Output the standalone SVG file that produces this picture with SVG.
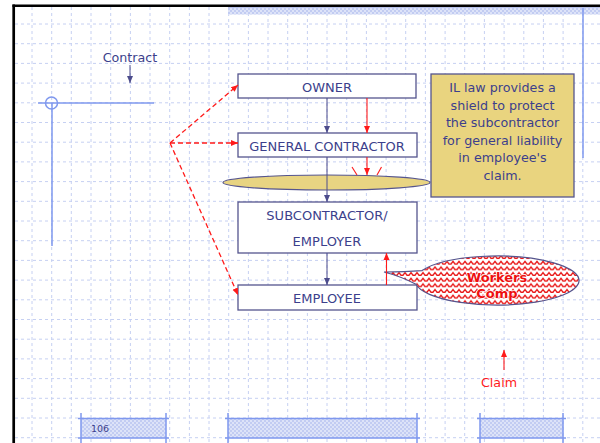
<svg xmlns="http://www.w3.org/2000/svg" width="600" height="443" viewBox="0 0 600 443">
<style>
.grid{stroke:#c6d0f2;stroke-width:1;stroke-dasharray:3 3;fill:none}
.box{fill:#ffffff;stroke:#55558e;stroke-width:1.3}
.lbl{font-family:"DejaVu Sans",Verdana,sans-serif;font-size:13px;fill:#3c3f8c;text-anchor:middle}
.note{font-family:"DejaVu Sans",Verdana,sans-serif;font-size:12.7px;fill:#3c3f8c;text-anchor:middle}
.blue{stroke:#4c4c8c;stroke-width:1;fill:none}
.red{stroke:#ff1a1a;stroke-width:1.1;fill:none}
.rdash{stroke:#ff1a1a;stroke-width:1.3;fill:none;stroke-dasharray:5 3}
.deco{stroke:#7f98ee;stroke-width:1.5;fill:none}
</style>
<defs>
<marker id="ab" markerUnits="userSpaceOnUse" markerWidth="8" markerHeight="8" viewBox="0 0 8 8" refX="7" refY="4" orient="auto"><path d="M0,1 L7,4 L0,7 Z" fill="#4c4c8c"/></marker>
<marker id="ar" markerUnits="userSpaceOnUse" markerWidth="8" markerHeight="8" viewBox="0 0 8 8" refX="7" refY="4" orient="auto"><path d="M0,1 L7,4 L0,7 Z" fill="#ff1a1a"/></marker>
<pattern id="chk" patternUnits="userSpaceOnUse" width="4" height="4"><rect width="4" height="4" fill="#dde3f8"/><rect width="2" height="2" fill="#c2ccf2"/><rect x="2" y="2" width="2" height="2" fill="#c2ccf2"/></pattern>
<pattern id="zig" patternUnits="userSpaceOnUse" x="0" y="260" width="6" height="5.65"><path d="M-0.5,4 L1,4 L3,1.3 L5,4 L6.5,4" stroke="#e81414" stroke-width="1.3" fill="none"/></pattern>
</defs>
<rect width="600" height="443" fill="#ffffff"/>
<g id="grid">
<path class="grid" d="M15,24H600M15,43.7H600M15,63.4H600M15,83.1H600M15,102.8H600M15,122.5H600M15,142.2H600M15,161.9H600M15,181.6H600M15,201.3H600M15,221H600M15,240.7H600M15,260.4H600M15,280.1H600M15,299.8H600M15,319.5H600M15,339.2H600M15,358.9H600M15,378.6H600M15,398.3H600M15,418H600M15,437.7H600"/>
<path class="grid" d="M32,7V443M51.7,7V443M71.3,7V443M91,7V443M110.7,7V443M130.4,7V443M150,7V443M169.7,7V443M189.4,7V443M209,7V443M228.7,7V443M248.4,7V443M268,7V443M287.7,7V443M307.4,7V443M327,7V443M346.7,7V443M366.4,7V443M386.1,7V443M405.7,7V443M425.4,7V443M445.1,7V443M464.7,7V443M484.4,7V443M504.1,7V443M523.8,7V443M543.4,7V443M563.1,7V443M582.8,7V443"/>
</g>
<g id="frame">
<rect x="228" y="8" width="372" height="6.5" fill="url(#chk)"/>
<line x1="228" y1="7.5" x2="600" y2="7.5" stroke="#b8c2ea" stroke-width="1"/>
<line x1="12.5" y1="5.7" x2="600" y2="5.7" stroke="#000" stroke-width="2.4"/>
<line x1="13.7" y1="4.5" x2="13.7" y2="443" stroke="#000" stroke-width="2.7"/>
<line x1="583" y1="8" x2="583" y2="158" class="deco" stroke-width="1.3"/>
<line x1="38" y1="103" x2="154" y2="103" class="deco" stroke-width="1.3"/>
<line x1="52" y1="103" x2="52" y2="246" class="deco" stroke-width="1.3"/>
<circle cx="51.5" cy="103" r="6" class="deco" stroke-width="1.2"/>
<rect x="81" y="418.5" width="85" height="19.5" fill="url(#chk)"/>
<rect x="228" y="418.5" width="189" height="19.5" fill="url(#chk)"/>
<rect x="480" y="418.5" width="83" height="19.5" fill="url(#chk)"/>
<path class="deco" d="M78,418.5H169M78,438H169M81,413V443M166,413V443M225,418.5H420M225,438H420M228,413V443M417,413V443M477,418.5H566M477,438H566M480,413V443M563,413V443"/>
<text x="91" y="432" font-family="'DejaVu Sans',Verdana,sans-serif" font-size="9.5" fill="#3c3f8c">106</text>
</g>
<g id="ellipse-shield"><ellipse cx="326.5" cy="182.5" rx="103.5" ry="7.5" fill="#e8d482" stroke="#55558e" stroke-width="1.2"/></g>
<g id="owner"><rect class="box" x="238" y="74" width="178" height="24"/><text class="lbl" x="327" y="91.5">OWNER</text></g>
<g id="general-contractor"><rect class="box" x="238" y="133" width="179" height="24"/><text class="lbl" x="327" y="150.5">GENERAL CONTRACTOR</text></g>
<g id="subcontractor"><rect class="box" x="238" y="202" width="179" height="51"/><text class="lbl" x="327" y="220">SUBCONTRACTOR/</text><text class="lbl" x="327" y="246">EMPLOYER</text></g>
<g id="employee"><rect class="box" x="238" y="285" width="179" height="25"/><text class="lbl" x="327" y="302.5">EMPLOYEE</text></g>
<g id="note"><rect x="431" y="74" width="143" height="123" fill="#e9d47f" stroke="#55558e" stroke-width="1.3"/>
<text class="note" x="502.5" y="92">IL law provides a</text>
<text class="note" x="502.5" y="109.5">shield to protect</text>
<text class="note" x="502.5" y="127">the subcontractor</text>
<text class="note" x="502.5" y="144.5">for general liability</text>
<text class="note" x="502.5" y="162">in employee's</text>
<text class="note" x="502.5" y="179.5">claim.</text></g>
<g id="workers-comp">
<path d="M384,272 Q405,272 422,270.6 A82,24.5 0 1 1 416,284.3 Q400,276 384,272 Z" fill="#ffffff"/>
<path d="M384,272 Q405,272 422,270.6 A82,24.5 0 1 1 416,284.3 Q400,276 384,272 Z" fill="url(#zig)" stroke="#55558e" stroke-width="1.2"/>
<text x="497" y="282" font-family="'DejaVu Sans',Verdana,sans-serif" font-size="13" font-weight="bold" fill="#ee1010" text-anchor="middle" stroke="#ffffff" stroke-width="1.5" paint-order="stroke">Workers</text>
<text x="497" y="298" font-family="'DejaVu Sans',Verdana,sans-serif" font-size="13" font-weight="bold" fill="#ee1010" text-anchor="middle" stroke="#ffffff" stroke-width="1.5" paint-order="stroke">Comp</text>
</g>
<g id="contract-label"><text class="note" x="130" y="62" style="font-size:12.7px">Contract</text></g>
<g id="claim-label"><text x="499" y="387" font-family="'DejaVu Sans',Verdana,sans-serif" font-size="12.7" fill="#ff1a1a" text-anchor="middle">Claim</text></g>
<g id="connectors">
<line class="blue" x1="130" y1="65" x2="130" y2="83" marker-end="url(#ab)"/>
<line class="blue" x1="327" y1="98" x2="327" y2="133" marker-end="url(#ab)"/>
<line class="blue" x1="327" y1="157" x2="327" y2="202" marker-end="url(#ab)"/>
<line class="blue" x1="327" y1="253" x2="327" y2="285" marker-end="url(#ab)"/>
<line class="red" x1="367" y1="98" x2="367" y2="133" marker-end="url(#ar)"/>
<line class="red" x1="367" y1="157" x2="367" y2="175" marker-end="url(#ar)"/>
<line class="red" x1="352" y1="167" x2="357" y2="175"/>
<line class="red" x1="381.5" y1="167" x2="377" y2="175"/>
<line class="red" x1="386.5" y1="285" x2="386.5" y2="253" marker-end="url(#ar)"/>
<line class="red" x1="504" y1="370" x2="504" y2="350" marker-end="url(#ar)"/>
<line class="rdash" x1="170" y1="143" x2="238" y2="85" marker-end="url(#ar)"/>
<line class="rdash" x1="170" y1="143" x2="238" y2="143" marker-end="url(#ar)"/>
<line class="rdash" x1="170" y1="143" x2="238" y2="295" marker-end="url(#ar)"/>
</g>
</svg>
